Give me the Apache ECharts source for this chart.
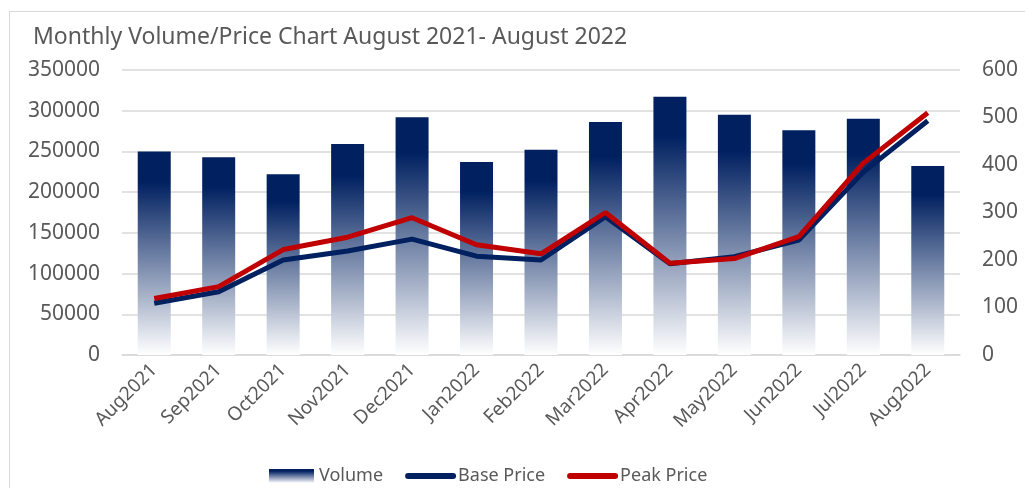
<!DOCTYPE html>
<html>
<head>
<meta charset="utf-8">
<script src="https://cdn.jsdelivr.net/npm/echarts@6/dist/echarts.min.js"></script>
<style>
  html, body { margin: 0; padding: 0; background: #fff; }
  #frame { position: absolute; left: 9px; top: 11px; width: 1025px; height: 490px; border: 1px solid #d9d9d9; box-sizing: border-box; }
  #chart { position: absolute; left: 0; top: 0; width: 1025px; height: 488px; }
</style>
</head>
<body>
<div id="frame"></div>
<div id="chart"></div>
<script>
var months = ['Aug2021', 'Sep2021', 'Oct2021', 'Nov2021', 'Dec2021', 'Jan2022', 'Feb2022',
    'Mar2022', 'Apr2022', 'May2022', 'Jun2022', 'Jul2022', 'Aug2022'];
var volume = [250000, 243000, 222000, 259000, 292000, 237000, 252000,
    286000, 317000, 295000, 276000, 290000, 232000];
var basePrice = [109, 133, 200, 219, 244, 208, 200, 291, 192, 207, 242, 385, 493];
var peakPrice = [119, 144, 222, 248, 289, 232, 213, 300, 193, 203, 249, 404, 510];

var textColor = '#595959';
var fontFam = '"Noto Sans", sans-serif';

var chartDom = document.getElementById('chart');
var myChart = echarts.init(chartDom);

function plain(v) {
    return String(v);
}

var option = {
    animation: false,
    title: {
        text: 'Monthly Volume/Price Chart August 2021- August 2022',
        left: 28,
        top: 21,
        textStyle: {
            color: textColor,
            fontFamily: fontFam,
            fontWeight: 'normal',
            fontSize: 23
        }
    },
    legend: {
        left: 264,
        top: 462,
        itemGap: 22,
        itemWidth: 45,
        itemHeight: 14,
        textStyle: {
            color: textColor,
            fontFamily: fontFam,
            fontSize: 18,
            padding: [0, 0, 0, 0]
        },
        data: [
            { name: 'Volume', icon: 'rect' },
            { name: 'Base Price', itemStyle: { opacity: 0 }, lineStyle: { width: 6, cap: 'round' } },
            { name: 'Peak Price', itemStyle: { opacity: 0 }, lineStyle: { width: 6, cap: 'round' } }
        ]
    },
    grid: {
        left: 122,
        right: 65,
        top: 70,
        bottom: 133
    },
    xAxis: [
        {
            type: 'category',
            data: months,
            axisTick: { show: false },
            axisLine: { lineStyle: { color: '#d9d9d9', width: 1.5 } },
            axisLabel: {
                rotate: 45,
                color: textColor,
                fontFamily: fontFam,
                fontSize: 19,
                margin: 12
            }
        }
    ],
    yAxis: [
        {
            type: 'value',
            min: 0,
            max: 350000,
            interval: 50000,
            axisLine: { show: false },
            axisTick: { show: false },
            splitLine: { lineStyle: { color: '#d9d9d9', width: 1.5 } },
            axisLabel: {
                formatter: plain,
                color: textColor,
                fontFamily: fontFam,
                fontSize: 21,
                margin: 22
            }
        },
        {
            type: 'value',
            min: 0,
            max: 600,
            interval: 100,
            axisLine: { show: false },
            axisTick: { show: false },
            splitLine: { show: false },
            axisLabel: {
                formatter: plain,
                color: textColor,
                fontFamily: fontFam,
                fontSize: 21,
                margin: 22
            }
        }
    ],
    series: [
        {
            name: 'Volume',
            type: 'bar',
            barWidth: 33,
            itemStyle: {
                color: new echarts.graphic.LinearGradient(0, 0, 0, 1, [
                    { offset: 0, color: '#002060' },
                    { offset: 0.15, color: '#002060' },
                    { offset: 1, color: '#ffffff' }
                ])
            },
            data: volume
        },
        {
            name: 'Base Price',
            type: 'line',
            yAxisIndex: 1,
            symbol: 'none',
            lineStyle: { color: '#002060', width: 5 },
            itemStyle: { color: '#002060' },
            data: basePrice
        },
        {
            name: 'Peak Price',
            type: 'line',
            yAxisIndex: 1,
            symbol: 'none',
            lineStyle: { color: '#c00000', width: 5 },
            itemStyle: { color: '#c00000' },
            data: peakPrice
        }
    ]
};
myChart.setOption(option);
</script>
</body>
</html>
